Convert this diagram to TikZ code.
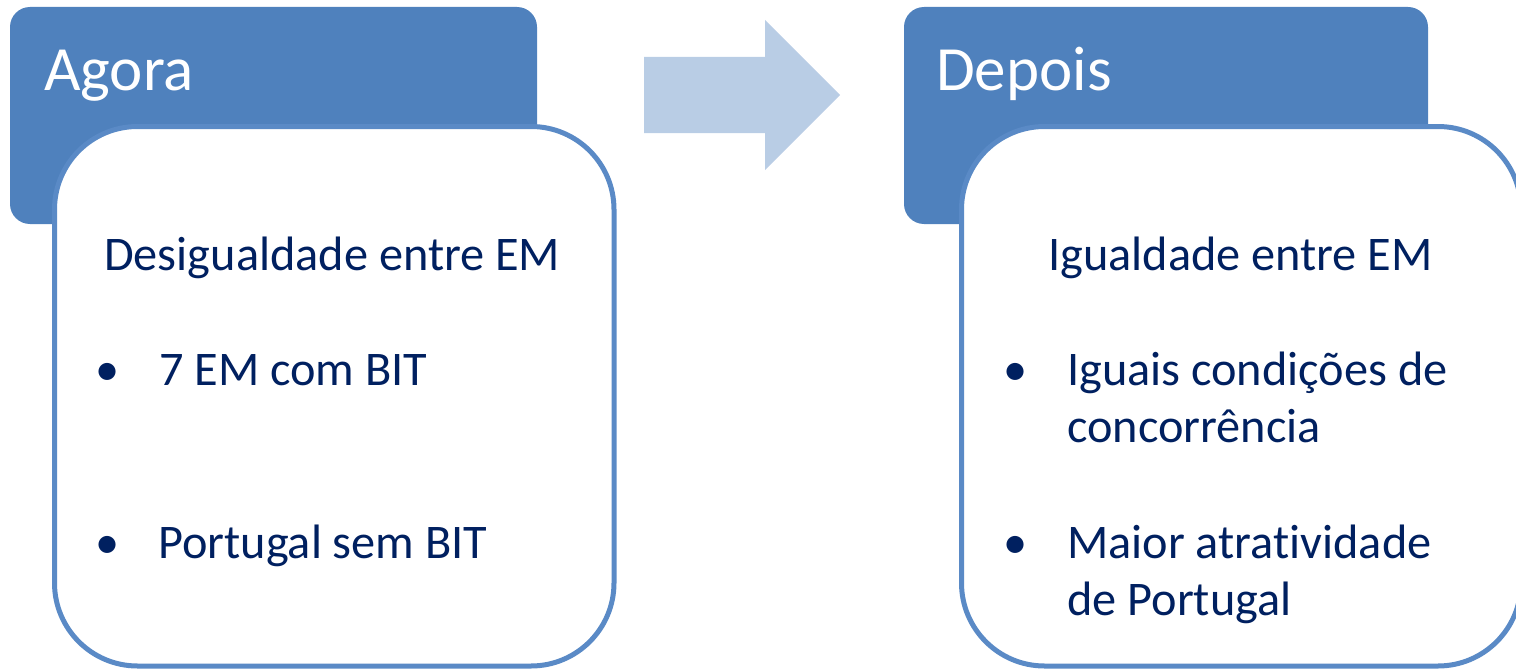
\documentclass[tikz,border=0pt]{standalone}
\usepackage{fontspec}
\setmainfont{Carlito}[Ligatures={NoCommon}]
\definecolor{headblue}{HTML}{4F81BD}
\definecolor{lineblue}{HTML}{5A8AC6}
\definecolor{arrowblue}{HTML}{B9CDE5}
\definecolor{navy}{HTML}{002060}
\tikzset{
  header/.style={fill=headblue, draw=none, rounded corners=20pt},
  card/.style={fill=white, draw=lineblue, line width=5pt, rounded corners=83pt},
  title/.style={anchor=base west, inner sep=0pt, text=white, font=\fontsize{63}{75}\selectfont},
  body/.style={anchor=base west, inner sep=0pt, text=navy, font=\fontsize{48.3}{58}\selectfont},
  bul/.style={anchor=base, inner sep=0pt, text=navy, font=\fontsize{48.3}{58}\selectfont}
}
\begin{document}
\begin{tikzpicture}[x=1pt, y=-1pt]
\clip (0,0) rectangle (1516,669);
\useasboundingbox (0,0) rectangle (1516,669);
% left panel
\path[header] (10,7) rectangle (537,224);
\path[card] (54.5,126.5) rectangle (614,666);
\node[title] (agora) at (44,90) {Agora};
\node[body] (desig) at (104,270) {Desigualdade entre EM};
\node[bul] (b1) at (108,385) {•};
\node[body] (t1) at (159,385) {7 EM com BIT};
\node[bul] (b2) at (108,558) {•};
\node[body] (t2) at (158,558) {Portugal sem BIT};
% arrow
\fill[arrowblue] (644,57) -- (765,57) -- (765,20) -- (840,95) -- (765,170) -- (765,133) -- (644,133) -- cycle;
% right panel
\path[header] (904,7) rectangle (1428,224);
\path[card] (961.5,126.5) rectangle (1521,666);
\node[title] (depois) at (936,90) {Depois};
\node[body] (igual) at (1048,270) {Igualdade entre EM};
\node[bul] (b3) at (1016,385) {•};
\node[body] (t3a) at (1067,385) {Iguais condições de};
\node[body] (t3b) at (1067,442) {concorrência};
\node[bul] (b4) at (1016,558) {•};
\node[body] (t4a) at (1067,558) {Maior atratividade};
\node[body] (t4b) at (1067,615) {de Portugal};
\end{tikzpicture}
\end{document}
